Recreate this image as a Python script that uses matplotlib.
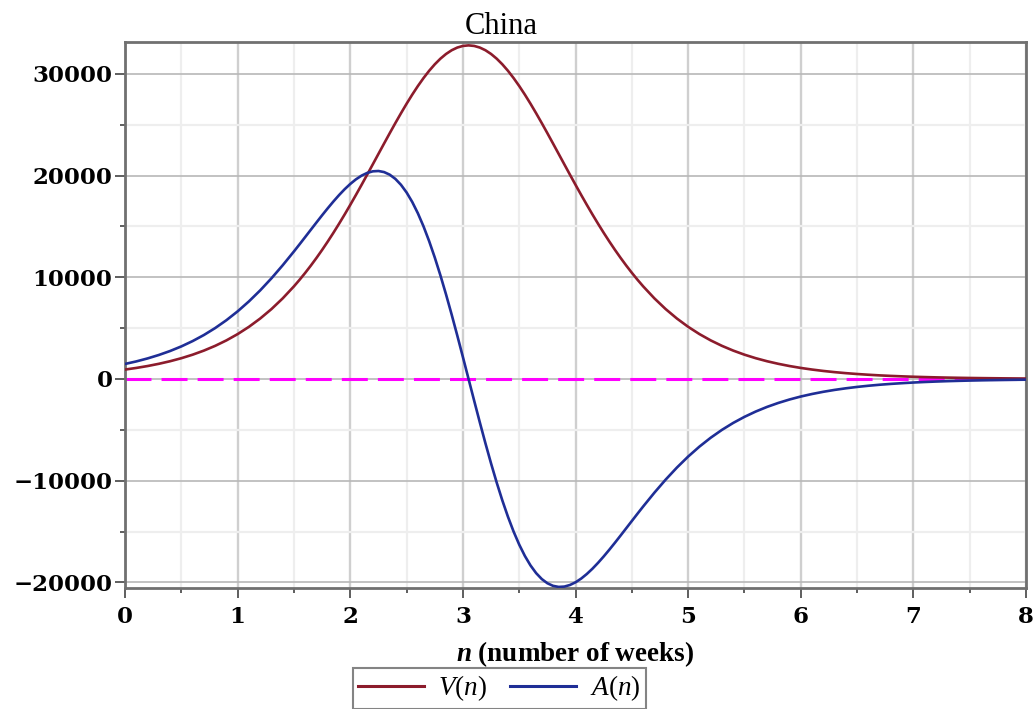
import numpy as np
import matplotlib
matplotlib.use("Agg")
import matplotlib.pyplot as plt
from matplotlib.ticker import MultipleLocator

# weeks: every 0.1 in the tails, every 0.05 around the peaks
n_weeks = np.concatenate([
    np.linspace(0, 1.5, 16),
    np.linspace(1.55, 4.55, 61),
    np.linspace(4.6, 8, 35),
])

# V(n)
v_values = [
    # 0.0 .. 1.5
    925, 1084, 1271, 1490, 1744, 2041, 2387, 2789, 3255, 3793,
    4413, 5126, 5943, 6872, 7926, 9111,
    # 1.55 .. 4.55
    9756, 10437, 11153, 11905, 12692, 13515, 14370, 15259, 16177, 17124,
    18094, 19085, 20092, 21109, 22131, 23151, 24163, 25158, 26127, 27064,
    27958, 28801, 29584, 30299, 30937, 31491, 31954, 32321, 32586, 32746,
    32800,
    32746, 32586, 32321, 31954, 31491, 30937, 30299, 29584, 28801, 27958,
    27064, 26127, 25158, 24163, 23151, 22131, 21109, 20092, 19085, 18094,
    17124, 16177, 15259, 14370, 13515, 12692, 11905, 11153, 10437, 9756,
    # 4.6 .. 8.0
    9111, 7926, 6872, 5943, 5126, 4413, 3793, 3255, 2789, 2387,
    2041, 1744, 1490, 1271, 1084, 925, 788, 671, 572, 487,
    415, 352, 300, 256, 217, 185, 157, 134, 114, 97,
    83, 71, 60, 51, 43,
]

# A(n)
a_values = [
    # 0.0 .. 1.5
    1477, 1726, 2019, 2358, 2749, 3202, 3724, 4321, 5004, 5778,
    6651, 7628, 8711, 9898, 11182, 12544,
    # 1.55 .. 4.55
    13248, 13961, 14678, 15393, 16099, 16787, 17450, 18077, 18657, 19177,
    19628, 19992, 20260, 20416, 20448, 20342, 20087, 19673, 19091, 18334,
    17402, 16291, 15007, 13554, 11945, 10192, 8313, 6331, 4267, 2147,
    0,
    -2147, -4267, -6331, -8313, -10192, -11945, -13554, -15007, -16291, -17402,
    -18334, -19091, -19673, -20087, -20342, -20448, -20416, -20260, -19992, -19628,
    -19177, -18657, -18077, -17450, -16787, -16099, -15393, -14678, -13961, -13248,
    # 4.6 .. 8.0
    -12544, -11182, -9898, -8711, -7628, -6651, -5778, -5004, -4321, -3724,
    -3202, -2749, -2358, -2019, -1726, -1477, -1261, -1076, -919, -783,
    -667, -568, -484, -413, -350, -298, -254, -216, -185, -157,
    -134, -115, -98, -83, -70,
]

series_labels = ["$V(n)$", "$A(n)$"]
title_text = "China"
xlabel_text = r"$\mathbf{n}$ (number of weeks)"

plt.rcParams["mathtext.fontset"] = "custom"
plt.rcParams["mathtext.rm"] = "Liberation Serif"
plt.rcParams["mathtext.it"] = "Liberation Serif:italic"
plt.rcParams["mathtext.bf"] = "Liberation Serif:italic:bold"

fig = plt.figure(figsize=(10.36, 7.09), dpi=100)
ax = fig.add_axes([0.1207, 0.1700, 0.8697, 0.7703])

# grid like maple's
ax.set_axisbelow(True)
ax.xaxis.set_major_locator(MultipleLocator(1))
ax.xaxis.set_minor_locator(MultipleLocator(0.5))
ax.yaxis.set_major_locator(MultipleLocator(10000))
ax.yaxis.set_minor_locator(MultipleLocator(5000))
ax.grid(True, which="minor", color="#eeeeee", lw=1.6)
ax.grid(True, which="major", axis="x", color="#cfcfcf", lw=1.7)
ax.grid(True, which="major", axis="y", color="#b8b8b8", lw=1.2)

ax.axhline(0, color="#ff00ff", lw=2.2, linestyle=(0, (8.5, 3.3)), zorder=2)
ax.plot(n_weeks, v_values, color="#8c1c2c", lw=1.9, label=series_labels[0], zorder=3)
ax.plot(n_weeks, a_values, color="#1f2e96", lw=1.9, label=series_labels[1], zorder=3)

ax.set_xlim(0, 8)
ax.set_ylim(-20600, 33100)

for s in ax.spines.values():
    s.set_color("#707070")
    s.set_linewidth(2.0)

ax.tick_params(which="major", direction="out", length=7.5, width=1.1, color="#333333",
               labelsize=16.5, pad=1.5)
ax.tick_params(which="minor", direction="out", length=3.5, width=1.1, color="#333333")
ax.tick_params(axis="x", which="major", pad=5)
for lab in ax.get_xticklabels() + ax.get_yticklabels():
    lab.set_family("DejaVu Serif")
    lab.set_fontweight("bold")

ax.set_xlabel(xlabel_text, fontsize=19.5, fontweight="bold", family="Liberation Serif",
              labelpad=8)

fig.text(0.4843, 0.9516, title_text, ha="center", va="baseline",
         fontsize=22, family="Liberation Serif")

leg = fig.legend(loc="center", bbox_to_anchor=(0.4817, 0.029), ncol=2,
                 fontsize=19.5, frameon=True, fancybox=False, handlelength=2.45,
                 handletextpad=0.5, columnspacing=0.85, borderpad=0.2,
                 borderaxespad=0)
leg.get_frame().set_edgecolor("#666666")
leg.get_frame().set_linewidth(1.5)
for line in leg.get_lines():
    line.set_linewidth(2.2)

fig.savefig("out.png", dpi=100)
